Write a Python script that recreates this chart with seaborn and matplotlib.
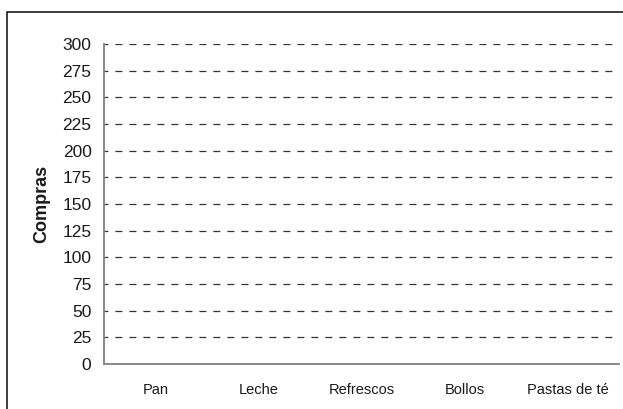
import matplotlib
matplotlib.use("Agg")
import matplotlib.pyplot as plt
from matplotlib.patches import Rectangle
import numpy as np
import pandas as pd
import seaborn as sns

# Purchases per product (no purchases recorded yet)
productos = ["Pan", "Leche", "Refrescos", "Bollos", "Pastas de té"]
compras = [0, 0, 0, 0, 0]
y_ticks = list(range(0, 301, 25))

df = pd.DataFrame({"Producto": productos, "Compras": compras})

sns.set_theme(style="white")
plt.rcParams["font.family"] = ["Liberation Sans", "DejaVu Sans"]

fig = plt.figure(figsize=(6.23, 4.09), dpi=100)
ax = fig.add_axes([104 / 623, 45 / 409, 515 / 623, 320 / 409])

sns.barplot(data=df, x="Producto", y="Compras", color="#9999ff", ax=ax,
            width=0.6, edgecolor="black", linewidth=0)

ax.set_xlim(-0.5, len(productos) - 0.5)
ax.set_ylim(0, 300)
ax.set_yticks(y_ticks)
ax.set_yticklabels([str(v) for v in y_ticks], fontsize=12.5, color="#1a1a1a")
ax.set_xticks(range(len(productos)))
ax.set_xticklabels(productos, fontsize=10.5, color="#1a1a1a")
ax.set_xticks(np.arange(-0.5, len(productos), 1.0), minor=True)

# dashed horizontal gridlines
for v in y_ticks[1:]:
    ax.axhline(v, color="#333333", lw=0.9, ls=(2.5, (5.6, 5.6)), zorder=0)

ax.tick_params(axis="x", which="major", length=0, pad=14)
ax.tick_params(axis="x", which="minor", length=4, width=1, color="#808080",
               direction="out")
ax.tick_params(axis="y", length=5, width=1, color="#555555", direction="out",
               pad=4)

for side in ("top", "right"):
    ax.spines[side].set_visible(False)
for side in ("left", "bottom"):
    ax.spines[side].set_color("#808080")
    ax.spines[side].set_linewidth(1.3)

ax.set_xlabel("")
ax.set_ylabel("Compras", fontsize=13, fontweight="bold", color="#1a1a1a",
              labelpad=9)

# outer chart frame
fig.patches.append(Rectangle((7 / 623, -0.05), 1.0, 1 - 12 / 409 + 0.05,
                             transform=fig.transFigure, fill=False,
                             edgecolor="#1e1e1e", linewidth=1.2))

fig.savefig("out.png", dpi=100, facecolor="white")
